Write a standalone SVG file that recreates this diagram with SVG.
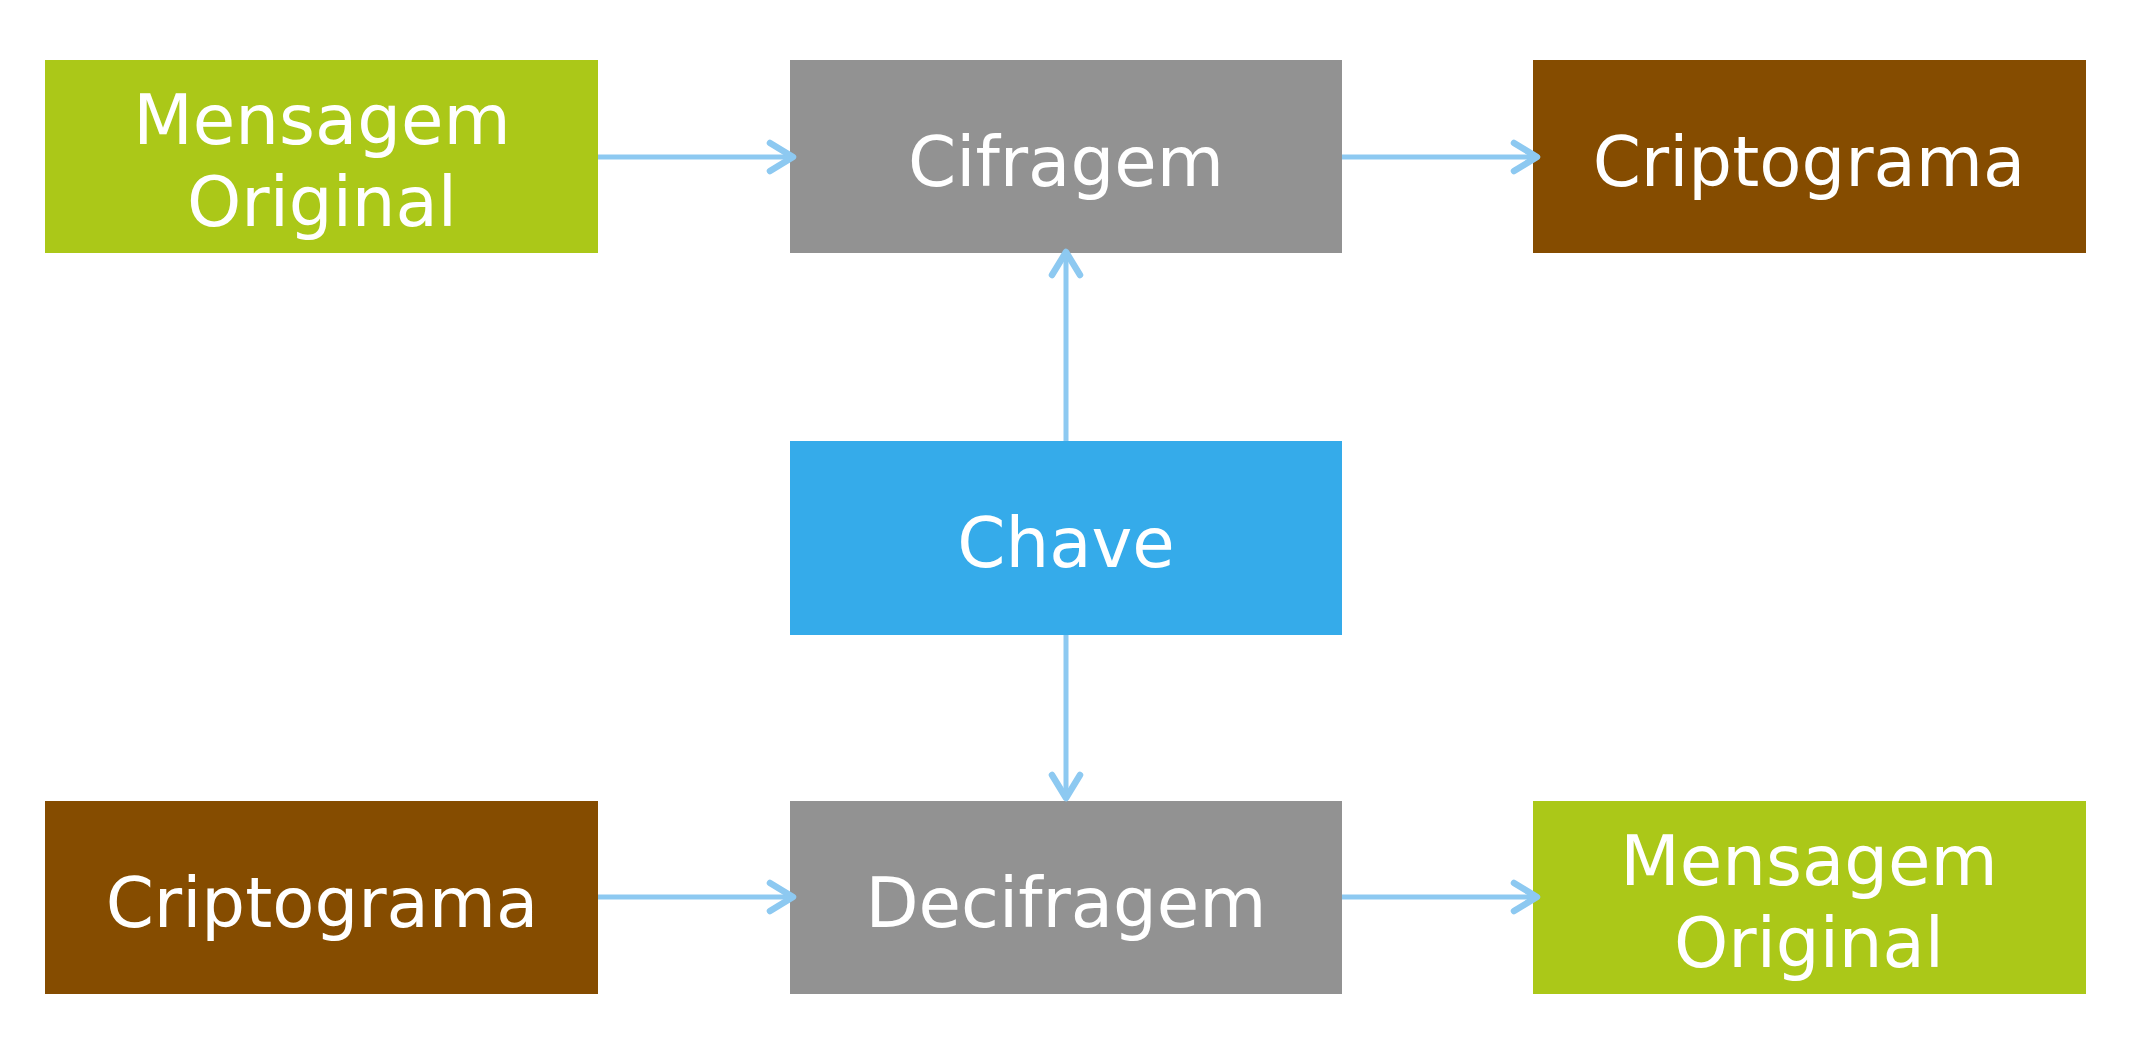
<svg xmlns="http://www.w3.org/2000/svg" width="2132" height="1062" viewBox="0 0 2132 1062">
<style>
.lbl{font-family:"DejaVu Sans",sans-serif;font-size:69px;fill:#fff;text-anchor:middle}
.green{fill:#abc818}
.gray{fill:#929292}
.brown{fill:#854c00}
.blue{fill:#35abea}
.conn{stroke:#8dc9f1;stroke-width:5;fill:none;marker-end:url(#arr)}
</style>
<defs>
<marker id="arr" markerUnits="userSpaceOnUse" markerWidth="40" markerHeight="40" viewBox="-30 -20 40 40" refX="0" refY="0" orient="auto" overflow="visible">
<path d="M-23,-14 L0,0 L-23,14" fill="none" stroke="#8dc9f1" stroke-width="6.5" stroke-linecap="round" stroke-linejoin="round"/>
</marker>
</defs>
<rect width="2132" height="1062" fill="#fff"/>
<g id="msg1"><rect class="green" x="45" y="60" width="553" height="193"/><text class="lbl" x="322" y="144">Mensagem</text><text class="lbl" x="322" y="226">Original</text></g>
<g id="cifragem"><rect class="gray" x="790" y="60" width="552" height="193"/><text class="lbl" x="1066" y="186">Cifragem</text></g>
<g id="cripto1"><rect class="brown" x="1533" y="60" width="553" height="193"/><text class="lbl" x="1809" y="186">Criptograma</text></g>
<g id="chave"><rect class="blue" x="790" y="441" width="552" height="194"/><text class="lbl" x="1066" y="567">Chave</text></g>
<g id="cripto2"><rect class="brown" x="45" y="801" width="553" height="193"/><text class="lbl" x="322" y="927">Criptograma</text></g>
<g id="decifragem"><rect class="gray" x="790" y="801" width="552" height="193"/><text class="lbl" x="1066" y="927">Decifragem</text></g>
<g id="msg2"><rect class="green" x="1533" y="801" width="553" height="193"/><text class="lbl" x="1809" y="885">Mensagem</text><text class="lbl" x="1809" y="967">Original</text></g>
<g id="connectors">
<line class="conn" x1="598" y1="157" x2="793" y2="157"/>
<line class="conn" x1="1342" y1="157" x2="1537" y2="157"/>
<line class="conn" x1="1066" y1="441" x2="1066" y2="252"/>
<line class="conn" x1="1066" y1="635" x2="1066" y2="798"/>
<line class="conn" x1="598" y1="897" x2="793" y2="897"/>
<line class="conn" x1="1342" y1="897" x2="1537" y2="897"/>
</g>
</svg>
